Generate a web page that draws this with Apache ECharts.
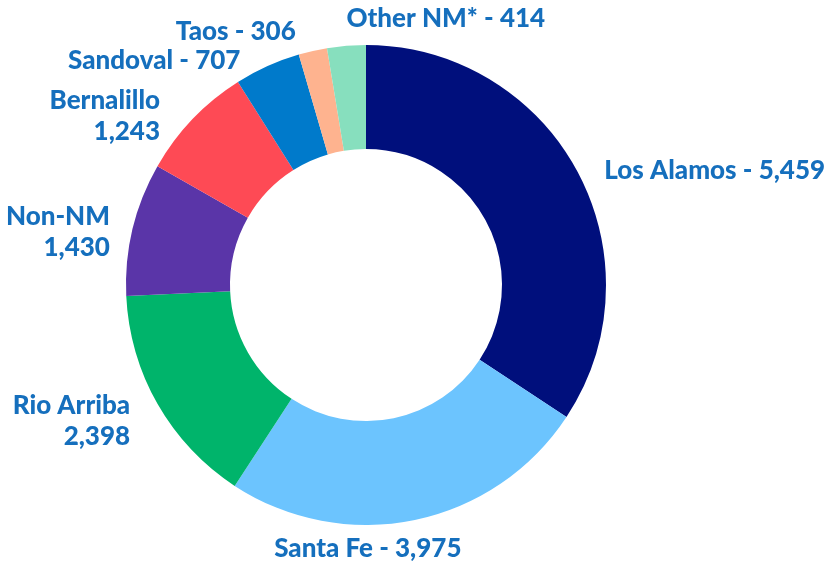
<!DOCTYPE html>
<html>
<head>
<meta charset="utf-8">
<script src="https://cdn.jsdelivr.net/npm/echarts@6/dist/echarts.min.js"></script>
<style>html,body{margin:0;padding:0;background:#fff}#c{width:830px;height:563px}</style>
</head>
<body>
<div id="c"></div>
<script>
const categories = ['Los Alamos', 'Santa Fe', 'Rio Arriba', 'Non-NM', 'Bernalillo', 'Sandoval', 'Taos', 'Other NM*'];
const values = [5459, 3975, 2398, 1430, 1243, 707, 306, 414];
const colors = ['#000f7c', '#6cc4fe', '#00b46b', '#5a35a8', '#fe4a55', '#007acb', '#feb38f', '#87dfbe'];
const twoLine = [false, false, true, true, true, false, false, false];

const cx = 366, cy = 285, R = 240, r0 = 136;
// label placement relative to the outer edge at slice mid-angle: [dx, dy, align]
const labelOffsets = [[27, -1, 'left'], [-47, 29, 'center'], [-27.5, 17, 'right'], [-22.7, 3, 'right'],
  [-32.5, -3, 'right'], [-27, -6, 'right'], [-17, -19, 'right'], [0, -27, 'left']];

const total = values.reduce((a, b) => a + b, 0);
const mids = [];
let acc = 0;
values.forEach(v => { mids.push((acc + v / 2) / total * 2 * Math.PI); acc += v; });

const fmt = n => n.toLocaleString('en-US');
const chart = echarts.init(document.getElementById('c'));
chart.setOption({
  animation: false,
  series: [{
    type: 'pie',
    center: [cx, cy],
    radius: [r0, R],
    startAngle: 90,
    clockwise: true,
    avoidLabelOverlap: false,
    itemStyle: { borderWidth: 0 },
    label: {
      show: true,
      position: 'outside',
      color: '#156fbd',
      fontFamily: 'Lato',
      fontWeight: 900,
      fontSize: 26,
      lineHeight: 31,
      formatter: p => twoLine[p.dataIndex] ? p.name + '\n' + fmt(p.value) : p.name + ' - ' + fmt(p.value)
    },
    labelLine: { show: false },
    labelLayout: p => {
      const i = p.dataIndex, a = mids[i], o = labelOffsets[i];
      return {
        x: cx + R * Math.sin(a) + o[0],
        y: cy - R * Math.cos(a) + o[1],
        align: o[2],
        verticalAlign: 'middle'
      };
    },
    data: categories.map((c, i) => ({ name: c, value: values[i], itemStyle: { color: colors[i] } }))
  }]
});
</script>
</body>
</html>
